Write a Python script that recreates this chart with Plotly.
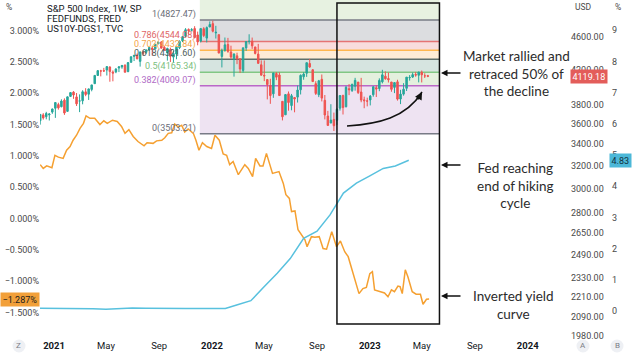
import math
import plotly.graph_objects as go

# ---------------- data ----------------
spx_dates = [
    "2020-11-30", "2020-12-07", "2020-12-14", "2020-12-21", "2020-12-28",
    "2021-01-04", "2021-01-11", "2021-01-18", "2021-01-25", "2021-02-01", "2021-02-08", "2021-02-15", "2021-02-22",
    "2021-03-01", "2021-03-08", "2021-03-15", "2021-03-22", "2021-03-29", "2021-04-05", "2021-04-12", "2021-04-19",
    "2021-04-26", "2021-05-03", "2021-05-10", "2021-05-17", "2021-05-24", "2021-05-31", "2021-06-07", "2021-06-14",
    "2021-06-21", "2021-06-28", "2021-07-05", "2021-07-12", "2021-07-19", "2021-07-26", "2021-08-02", "2021-08-09",
    "2021-08-16", "2021-08-23", "2021-08-30", "2021-09-06", "2021-09-13", "2021-09-20", "2021-09-27", "2021-10-04",
    "2021-10-11", "2021-10-18", "2021-10-25", "2021-11-01", "2021-11-08", "2021-11-15", "2021-11-22", "2021-11-29",
    "2021-12-06", "2021-12-13", "2021-12-20", "2021-12-27",
    "2022-01-03", "2022-01-10", "2022-01-17", "2022-01-24", "2022-01-31", "2022-02-07", "2022-02-14", "2022-02-21",
    "2022-02-28", "2022-03-07", "2022-03-14", "2022-03-21", "2022-03-28", "2022-04-04", "2022-04-11", "2022-04-18",
    "2022-04-25", "2022-05-02", "2022-05-09", "2022-05-16", "2022-05-23", "2022-05-30", "2022-06-06", "2022-06-13",
    "2022-06-20", "2022-06-27", "2022-07-04", "2022-07-11", "2022-07-18", "2022-07-25", "2022-08-01", "2022-08-08",
    "2022-08-15", "2022-08-22", "2022-08-29", "2022-09-05", "2022-09-12", "2022-09-19", "2022-09-26", "2022-10-03",
    "2022-10-10", "2022-10-17", "2022-10-24", "2022-10-31", "2022-11-07", "2022-11-14", "2022-11-21", "2022-11-28",
    "2022-12-05", "2022-12-12", "2022-12-19", "2022-12-26",
    "2023-01-02", "2023-01-09", "2023-01-16", "2023-01-23", "2023-01-30", "2023-02-06", "2023-02-13", "2023-02-20",
    "2023-02-27", "2023-03-06", "2023-03-13", "2023-03-20", "2023-03-27", "2023-04-03", "2023-04-10", "2023-04-17",
    "2023-04-24", "2023-05-01", "2023-05-08", "2023-05-15",
]
spx_open = [
    3634, 3694, 3675, 3694, 3723,
    3764, 3803, 3781, 3851, 3731, 3892, 3939, 3886, 3842, 3844, 3942, 3916, 3969, 4034, 4128, 4182, 4185, 4192,
    4228, 4169, 4170, 4216, 4229, 4248, 4174, 4285, 4356, 4372, 4296, 4409, 4406, 4438, 4461, 4450, 4514, 4536,
    4470, 4403, 4442, 4348, 4386, 4464, 4553, 4610, 4701, 4689, 4712, 4628, 4548, 4710, 4587, 4733,
    4778, 4655, 4632, 4356, 4431, 4505, 4412, 4332, 4363, 4327, 4188, 4462, 4541, 4547, 4474, 4385, 4255, 4130,
    4081, 4013, 3920, 4151, 4134, 3838, 3695, 3920, 3793, 3880, 3884, 3965, 4113, 4155, 4270, 4195, 4034, 3910,
    4084, 3849, 3682, 3610, 3647, 3638, 3765, 3901, 3780, 3978, 3956, 4006, 4052, 3940, 3854, 3843,
    3853, 3910, 3989, 3979, 4055, 4120, 4093, 4053, 3992, 4055, 3863, 3917, 3982, 4102, 4110, 4140, 4131, 4166,
    4124, 4126,
]
spx_high = [
    3699, 3712, 3726, 3711, 3760,
    3827, 3823, 3860, 3870, 3889, 3937, 3950, 3929, 3914, 3960, 3983, 3978, 4020, 4130, 4192, 4195, 4218, 4238,
    4236, 4188, 4214, 4234, 4249, 4262, 4287, 4356, 4372, 4393, 4415, 4429, 4441, 4469, 4480, 4511, 4546, 4549,
    4485, 4465, 4466, 4429, 4475, 4559, 4608, 4718, 4714, 4718, 4744, 4672, 4713, 4731, 4740, 4808,
    4819, 4749, 4632, 4453, 4595, 4590, 4490, 4395, 4402, 4327, 4465, 4546, 4637, 4594, 4471, 4513, 4308, 4307,
    4082, 4090, 4158, 4168, 4165, 3838, 3914, 3946, 3919, 3880, 4013, 4141, 4167, 4280, 4325, 4203, 4062, 4077,
    4140, 3907, 3736, 3807, 3718, 3762, 3906, 3911, 4009, 4029, 4034, 4101, 4052, 4101, 3889, 3878,
    3907, 4003, 4015, 4095, 4195, 4176, 4163, 4053, 4049, 4079, 3965, 4040, 4110, 4133, 4163, 4170, 4170, 4186,
    4154, 4135,
]
spx_low = [
    3594, 3645, 3648, 3636, 3705,
    3663, 3749, 3773, 3694, 3725, 3885, 3865, 3788, 3723, 3806, 3894, 3853, 3948, 4034, 4125, 4118, 4170, 4128,
    4056, 4061, 4155, 4168, 4207, 4165, 4166, 4279, 4300, 4321, 4233, 4367, 4386, 4425, 4367, 4450, 4508, 4457,
    4427, 4305, 4288, 4279, 4322, 4447, 4537, 4595, 4630, 4672, 4585, 4495, 4532, 4600, 4531, 4733,
    4662, 4582, 4395, 4223, 4414, 4401, 4327, 4115, 4262, 4157, 4162, 4424, 4506, 4450, 4381, 4267, 4129, 4063,
    3859, 3811, 3876, 4074, 3900, 3637, 3695, 3738, 3742, 3721, 3825, 3913, 4079, 4112, 4218, 4057, 3907, 3884,
    3837, 3647, 3584, 3611, 3530, 3591, 3739, 3698, 3773, 3906, 3941, 3955, 3918, 3828, 3764, 3784,
    3794, 3888, 3885, 3949, 4037, 4079, 4047, 3943, 3928, 3846, 3808, 3900, 3951, 4069, 4100, 4114, 4049, 4048,
    4099, 4109,
]
spx_close = [
    3699, 3663, 3709, 3703, 3756,
    3825, 3768, 3841, 3714, 3887, 3934, 3907, 3811, 3842, 3943, 3913, 3975, 4020, 4129, 4185, 4180, 4181, 4233,
    4174, 4156, 4204, 4230, 4247, 4166, 4281, 4352, 4370, 4327, 4412, 4395, 4437, 4468, 4442, 4509, 4535, 4459,
    4433, 4455, 4357, 4391, 4471, 4545, 4605, 4697, 4683, 4698, 4595, 4538, 4712, 4620, 4725, 4766,
    4677, 4663, 4398, 4432, 4501, 4419, 4349, 4385, 4329, 4204, 4463, 4543, 4546, 4488, 4393, 4272, 4132, 4123,
    4024, 3901, 4158, 4109, 3901, 3675, 3912, 3825, 3899, 3863, 3962, 4130, 4145, 4280, 4228, 4058, 3924, 4067,
    3873, 3693, 3586, 3640, 3583, 3753, 3901, 3771, 3993, 3965, 4026, 4072, 3934, 3852, 3845, 3840,
    3895, 3999, 3973, 4071, 4136, 4090, 4079, 3970, 4046, 3862, 3917, 3971, 4109, 4105, 4138, 4133, 4169, 4136,
    4124, 4119.18,
]

spread_dates = [
    "2020-11-30", "2020-12-07", "2020-12-15", "2020-12-27", "2021-01-03", "2021-01-11", "2021-01-22", "2021-01-30",
    "2021-02-07", "2021-02-14", "2021-02-22", "2021-03-02", "2021-03-10", "2021-03-16", "2021-03-25", "2021-04-05",
    "2021-04-17", "2021-04-26", "2021-05-04", "2021-05-16", "2021-05-27", "2021-06-06", "2021-06-14", "2021-06-23",
    "2021-07-03", "2021-07-14", "2021-07-28", "2021-08-04", "2021-08-18", "2021-08-26", "2021-09-07", "2021-09-14",
    "2021-09-22", "2021-09-30", "2021-10-07", "2021-10-15", "2021-10-23", "2021-10-30", "2021-11-07", "2021-11-19",
    "2021-11-25", "2021-12-02", "2021-12-10", "2021-12-20", "2021-12-31", "2022-01-08", "2022-01-18", "2022-01-27",
    "2022-02-04", "2022-02-11", "2022-02-19", "2022-03-03", "2022-03-18", "2022-03-26", "2022-04-05", "2022-04-12",
    "2022-04-22", "2022-04-29", "2022-05-07", "2022-05-21", "2022-06-05", "2022-06-15", "2022-06-21", "2022-06-29",
    "2022-07-04", "2022-07-12", "2022-07-19", "2022-07-27", "2022-08-04", "2022-08-09", "2022-08-19", "2022-08-27",
    "2022-09-06", "2022-09-15", "2022-09-23", "2022-10-05", "2022-10-16", "2022-10-25", "2022-11-04", "2022-11-12",
    "2022-11-27", "2022-12-07", "2022-12-16", "2022-12-24", "2023-01-01", "2023-01-07", "2023-01-12", "2023-01-24",
    "2023-02-04", "2023-02-12", "2023-02-20", "2023-02-27", "2023-03-07", "2023-03-12", "2023-03-17", "2023-03-24",
    "2023-03-30", "2023-04-09", "2023-04-18", "2023-04-28", "2023-05-04", "2023-05-12", "2023-05-18",
]
spread_vals = [
    0.86, 0.80, 0.84, 0.81, 1.01, 0.98, 0.96, 1.09,
    1.15, 1.25, 1.33, 1.44, 1.52, 1.64, 1.60, 1.60,
    1.50, 1.56, 1.52, 1.57, 1.55, 1.47, 1.36, 1.42,
    1.31, 1.23, 1.16, 1.21, 1.20, 1.24, 1.25, 1.29,
    1.36, 1.37, 1.51, 1.46, 1.49, 1.38, 1.43, 1.36,
    1.25, 1.09, 1.21, 1.15, 1.12, 1.33, 1.25, 1.03,
    1.01, 0.86, 0.91, 0.70, 0.86, 0.80, 0.67, 0.96,
    0.84, 0.84, 1.04, 0.72, 0.75, 0.56, 0.38, 0.32,
    0.11, 0.12, -0.18, -0.26, -0.34, -0.45, -0.29, -0.30,
    -0.29, -0.48, -0.49, -0.21, -0.45, -0.36, -0.53, -0.61,
    -0.98, -1.20, -1.12, -1.10, -0.88, -0.85, -1.14, -1.17,
    -1.19, -1.25, -1.14, -1.17, -1.08, -1.09, -1.20, -0.82,
    -0.93, -1.17, -1.21, -1.21, -1.37, -1.29, -1.287,
]

ff_dates = [
    "2020-11-01", "2020-12-01",
    "2021-01-01", "2021-02-01", "2021-03-01", "2021-04-01", "2021-05-01", "2021-06-01",
    "2021-07-01", "2021-08-01", "2021-09-01", "2021-10-01", "2021-11-01", "2021-12-01",
    "2022-01-01", "2022-02-01", "2022-03-01", "2022-04-01", "2022-05-01", "2022-06-01",
    "2022-07-01", "2022-08-01", "2022-09-01", "2022-10-01", "2022-11-01", "2022-12-01",
    "2023-01-01", "2023-02-01", "2023-03-01", "2023-04-01",
]
ff_vals = [
    0.09, 0.09,
    0.09, 0.08, 0.07, 0.07, 0.06, 0.08, 0.10, 0.09, 0.08, 0.08, 0.08, 0.08,
    0.08, 0.08, 0.20, 0.33, 0.77, 1.21, 1.68, 2.33, 2.56, 3.08, 3.78, 4.10,
    4.33, 4.57, 4.65, 4.83,
]

fib_levels = ["1", "0.786", "0.702", "0.618", "0.5", "0.382", "0"]
fib_prices = [4827.47, 4544.08, 4432.84, 4321.60, 4165.34, 4009.07, 3503.21]
fib_ext_price = 5645.87  # 1.618 level, off the top of the chart
fib_start = "2021-12-04"
fib_end = "2023-06-11"

box_start = "2022-10-17"
box_end = "2023-06-11"

x_tick_vals = ["2021-01-01", "2021-05-01", "2021-09-01", "2022-01-01", "2022-05-01", "2022-09-01",
               "2023-01-01", "2023-05-01", "2023-09-01", "2024-01-01"]
x_tick_text = ["<b>2021</b>", "May", "Sep", "<b>2022</b>", "May", "Sep", "<b>2023</b>", "May", "Sep", "<b>2024</b>"]

left_tick_vals = [3.0, 2.5, 2.0, 1.5, 1.0, 0.5, 0.0, -0.5, -1.0, -1.5]
left_tick_text = ["3.000%", "2.500%", "2.000%", "1.500%", "1.000%", "0.500%", "0.000%",
                  "\u22120.500%", "\u22121.000%", "\u22121.500%"]
usd_tick_vals = [4600, 4200, 3800, 3600, 3400, 3200, 3000, 2800, 2650, 2490, 2330, 2210, 2090, 1980]
usd_tick_text = ["4600.00", "4200.00", "3800.00", "3600.00", "3400.00", "3200.00", "3000.00", "2800.00",
                 "2650.00", "2490.00", "2330.00", "2210.00", "2090.00", "1980.00"]
ff_tick_vals = [0, 1, 2, 3, 4, 5, 6, 7, 8, 9]

last_spx = 4119.18
last_ff = 4.83
last_spread = -1.287

# ---------------- styling / geometry ----------------
W, H = 640, 354
ML, MB = 40, 16
PW, PH = W - ML, H - MB


def px_x(x):
    return (x - ML) / PW


def px_y(y):
    return 1 - y / PH


GREEN = "#26a69a"
RED = "#ef5350"
ORANGE = "#f5a031"
BLUE = "#58c1de"
TXT = "#2b2b2b"
AXC = "#4a4a4a"

fib_line_colors = ["#787b86", "#e57373", "#ffb74d", "#5f706c", "#81c784", "#ba68c8", "#787b86"]
fib_text_colors = ["#6b6e78", "#e06666", "#f5a54a", "#4f5e5a", "#7cc07e", "#b06ac6", "#6b6e78"]
fib_zone_colors = ["#dcdde0", "#f8dcdc", "#fdecd6", "#d6e4e0", "#e4f0de", "#eee3f2"]
fib_top_zone = "#e7f2e1"

fig = go.Figure()

fig.add_trace(go.Scatter(x=spread_dates, y=spread_vals, mode="lines",
                         line=dict(color=ORANGE, width=1.5), xaxis="x", yaxis="y",
                         hoverinfo="skip"))
fig.add_trace(go.Candlestick(x=spx_dates, open=spx_open, high=spx_high, low=spx_low, close=spx_close,
                             xaxis="x", yaxis="y2", whiskerwidth=0,
                             increasing=dict(line=dict(color=GREEN, width=1), fillcolor=GREEN),
                             decreasing=dict(line=dict(color=RED, width=1), fillcolor=RED)))
fig.add_trace(go.Scatter(x=ff_dates, y=ff_vals, mode="lines",
                         line=dict(color=BLUE, width=1.5), xaxis="x", yaxis="y3",
                         hoverinfo="skip"))

shapes = []
# fib zones
shapes.append(dict(type="rect", xref="x", yref="y2", x0=fib_start, x1=fib_end,
                   y0=fib_prices[0], y1=fib_ext_price, fillcolor=fib_top_zone, line=dict(width=0), layer="below"))
for i in range(len(fib_prices) - 1):
    shapes.append(dict(type="rect", xref="x", yref="y2", x0=fib_start, x1=fib_end,
                       y0=fib_prices[i + 1], y1=fib_prices[i], fillcolor=fib_zone_colors[i],
                       line=dict(width=0), layer="below"))
for i, p in enumerate(fib_prices):
    shapes.append(dict(type="line", xref="x", yref="y2", x0=fib_start, x1=fib_end, y0=p, y1=p,
                       line=dict(color=fib_line_colors[i], width=1.5), layer="below"))

# highlight box
shapes.append(dict(type="rect", xref="x", yref="paper", x0=box_start, x1=box_end,
                   y0=px_y(324), y1=px_y(3), line=dict(color="#111111", width=1.5), fillcolor="rgba(0,0,0,0)"))

# curved arrow (path in paper coords)
p0, c1, c2, p3 = (347, 126), (378, 124), (406, 118), (422, 92)
path = "M {},{} C {},{} {},{} {},{}".format(px_x(p0[0]), px_y(p0[1]), px_x(c1[0]), px_y(c1[1]),
                                            px_x(c2[0]), px_y(c2[1]), px_x(p3[0]), px_y(p3[1]))
shapes.append(dict(type="path", xref="paper", yref="paper", path=path, line=dict(color="#111111", width=1.5)))

# scale buttons circles
for cx in (19, 583, 617):
    shapes.append(dict(type="circle", xref="paper", yref="paper",
                       x0=px_x(cx - 6.5), x1=px_x(cx + 6.5), y0=px_y(346 + 6.5), y1=px_y(346 - 6.5),
                       fillcolor="#eef0f4", line=dict(width=0)))

ann = []
# fib labels
for i, p in enumerate(fib_prices):
    ann.append(dict(xref="x", yref="y2", x=fib_start, y=math.log10(p), xanchor="right", yanchor="bottom",
                    xshift=-2, yshift=-2, showarrow=False,
                    text="{}({:.2f})".format(fib_levels[i], p),
                    font=dict(size=9, color=fib_text_colors[i], family="Roboto, sans-serif")))

# legend text
for j, t in enumerate(["S&P 500 Index, 1W, SP", "FEDFUNDS, FRED", "US10Y-DGS1, TVC"]):
    ann.append(dict(xref="paper", yref="paper", x=px_x(45), y=px_y(8 + 10.5 * j), xanchor="left",
                    yanchor="middle", showarrow=False, text=t,
                    font=dict(size=9.5, color="#131722", family="Roboto, sans-serif")))

# axis unit labels
for (xx, t) in ((9, "%"), (583, "USD"), (618, "%")):
    ann.append(dict(xref="paper", yref="paper", x=px_x(xx), y=px_y(7), xanchor="center", yanchor="middle",
                    showarrow=False, text=t, font=dict(size=8.5, color=AXC, family="Roboto, sans-serif")))

# scale button letters
for (xx, t) in ((19, "Z"), (583, "A"), (617, "B")):
    ann.append(dict(xref="paper", yref="paper", x=px_x(xx), y=px_y(346), xanchor="center", yanchor="middle",
                    showarrow=False, text=t, font=dict(size=8, color="#7a7d86", family="Roboto, sans-serif")))

# last-value badges
ann.append(dict(xref="paper", yref="y2", x=px_x(570), y=math.log10(last_spx), xanchor="left", yanchor="middle",
                showarrow=False, text="{:.2f}".format(last_spx), bgcolor="#e35d5a", borderpad=1.5,
                font=dict(size=9, color="white", family="Roboto, sans-serif")))
ann.append(dict(xref="paper", yref="y3", x=px_x(609), y=last_ff, xanchor="left", yanchor="middle",
                showarrow=False, text="{:.2f}".format(last_ff), bgcolor="#4cb8d8", borderpad=1.5,
                font=dict(size=9, color="#10303c", family="Roboto, sans-serif")))
ann.append(dict(xref="paper", yref="y", x=px_x(0), y=last_spread, xanchor="left", yanchor="middle",
                showarrow=False, text="\u2212{:.3f}%".format(abs(last_spread)), bgcolor="#f2a03a", borderpad=1.5,
                font=dict(size=9, color="#1d1d1d", family="Roboto, sans-serif")))

# commentary texts
notes = [
    ("Market rallied and<br>retraced 50% of<br>the decline", 516, 73, 73),
    ("Fed reaching<br>end of hiking<br>cycle", 515, 185, 165),
    ("Inverted yield<br>curve", 513, 305, 296),
]
for text, cx, cy, ay in notes:
    ann.append(dict(xref="paper", yref="paper", x=px_x(cx), y=px_y(cy), xanchor="center", yanchor="middle",
                    showarrow=False, text=text, align="center",
                    font=dict(size=13.5, color=TXT, family="Lato, sans-serif")))
    ann.append(dict(xref="paper", yref="paper", x=px_x(441), y=px_y(ay), ax=21, ay=0,
                    axref="pixel", ayref="pixel", text="", showarrow=True, arrowhead=2, arrowsize=1,
                    arrowwidth=1.3, arrowcolor="#111111", standoff=0))

# curved arrow head
ann.append(dict(xref="paper", yref="paper", x=px_x(p3[0]), y=px_y(p3[1]), ax=-5, ay=9,
                axref="pixel", ayref="pixel", text="", showarrow=True, arrowhead=2, arrowsize=1,
                arrowwidth=1.5, arrowcolor="#111111", standoff=0))

xdomain_end = px_x(570)

fig.update_layout(
    width=W, height=H,
    margin=dict(l=ML, r=0, t=0, b=MB, pad=0),
    paper_bgcolor="white", plot_bgcolor="white",
    showlegend=False,
    font=dict(family="Roboto, sans-serif", size=9, color=AXC),
    shapes=shapes,
    annotations=ann,
    xaxis=dict(type="date", range=["2020-11-29 12:00", "2024-04-07 19:00"], domain=[0, xdomain_end],
               showgrid=False, zeroline=False, showline=False, ticks="",
               tickvals=x_tick_vals, ticktext=x_tick_text,
               tickfont=dict(size=9.5, color="#131722"),
               rangeslider=dict(visible=False), fixedrange=True),
    yaxis=dict(range=[-1.909, 3.490], tickvals=left_tick_vals, ticktext=left_tick_text,
               showgrid=False, zeroline=False, showline=False, ticks="",
               tickfont=dict(size=9, color=AXC)),
    yaxis2=dict(type="log", range=[3.29425, 3.70821], overlaying="y", side="right", anchor="free",
                position=xdomain_end, tickvals=usd_tick_vals, ticktext=usd_tick_text,
                showgrid=False, zeroline=False, showline=False, ticks="",
                tickfont=dict(size=9, color=AXC)),
    yaxis3=dict(range=[-0.865, 9.968], overlaying="y", side="right", anchor="free",
                position=px_x(611), tickvals=ff_tick_vals,
                showgrid=False, zeroline=False, showline=False, ticks="",
                tickfont=dict(size=9, color=AXC)),
)

fig.write_html("out.html")
